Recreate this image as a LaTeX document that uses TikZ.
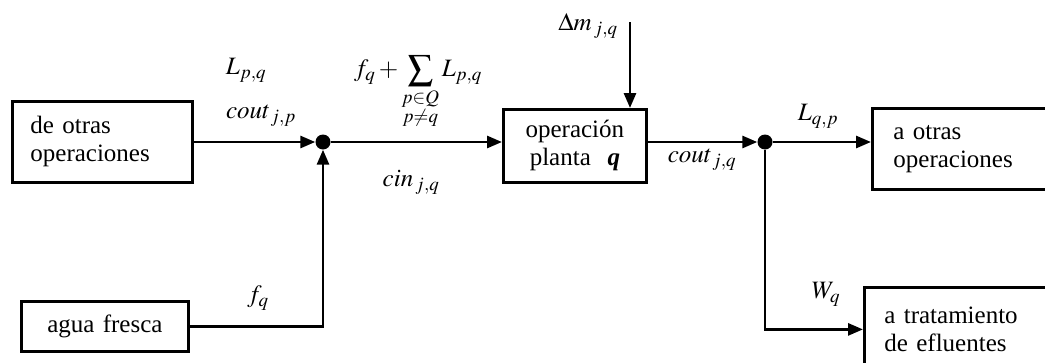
\documentclass[tikz,border=0pt]{standalone}
\usepackage{amsmath}
\usepackage{mathptmx}
\usepackage[no-math]{fontspec}
\setmainfont{Liberation Serif}
\usetikzlibrary{arrows.meta,positioning}
\DeclareMathSizes{25}{25}{19}{15}
\tikzset{
  arr/.style={-{Triangle[length=15pt,width=12pt]},line width=2.8pt},
  unitbox/.style={draw,line width=2.8pt,anchor=north west,align=left,inner xsep=18pt,inner ysep=0pt},
  joint/.style={circle,fill,inner sep=0pt,minimum size=15pt},
  lbl/.style={inner sep=0pt}
}

\begin{document}
\begin{tikzpicture}[x=1pt,y=-1pt,font=\fontsize{25}{28}\selectfont]
  \useasboundingbox (0,0) rectangle (1045,362);
  \clip (0,0) rectangle (1045,362);
  \node[unitbox,minimum width=180pt,minimum height=81pt,text width=144pt] (fromops) at (11,100) {de otras\\operaciones};
  \node[unitbox,align=center,minimum width=167pt,minimum height=50pt,text width=131pt] (fresh) at (20,300) {agua fresca};
  \node[unitbox,align=center,inner xsep=8pt,minimum width=143pt,minimum height=73pt,text width=127pt] (op) at (502,108) {operación\\planta\ \ \textbf{\textit{q}}};
  \node[unitbox,inner xsep=21pt,minimum width=200pt,minimum height=81pt,text width=158pt] (toops) at (871,107) {a otras\\operaciones};
  \node[unitbox,inner xsep=20pt,minimum width=200pt,minimum height=84pt,text width=160pt] (treat) at (863,286) {a tratamiento\\de efluentes};
  \node[joint] (jin) at (323,142) {};
  \node[joint] (jout) at (765,142) {};
  \coordinate (dmtop) at (630,22);
  % flujos
  \draw[arr] (fromops.east |- jin) -- (jin);
  \draw[arr] (fresh.east) -| (jin);
  \draw[arr] (jin) -- (op.west |- jin);
  \draw[arr] (dmtop) -- (dmtop |- op.north);
  \draw[arr] (op.east |- jout) -- (jout);
  \draw[arr] (jout) -- (toops.west |- jout);
  \draw[arr] (jout) |- (treat.west);
  % etiquetas
  \node[lbl] (lpq) at (246,70) {$L_{p,q}$};
  \node[lbl] (coutp) at (261,116) {$cout_{\,j,p}$};
  \node[lbl] (suma) at (418,92) {$\displaystyle f_q+\sum_{\substack{p\in Q\\ p\neq q}} L_{p,q}$};
  \node[lbl] (cin) at (411,182) {$cin_{\,j,q}$};
  \node[lbl] (dm) at (588,26) {$\Delta m_{\,j,q}$};
  \node[lbl] (coutq) at (702,160) {$cout_{\,j,q}$};
  \node[lbl] (lqp) at (818,116) {$L_{q,p}$};
  \node[lbl] (fq) at (258,298) {$f_q$};
  \node[lbl] (wq) at (826,294) {$W_q$};
\end{tikzpicture}
\end{document}
